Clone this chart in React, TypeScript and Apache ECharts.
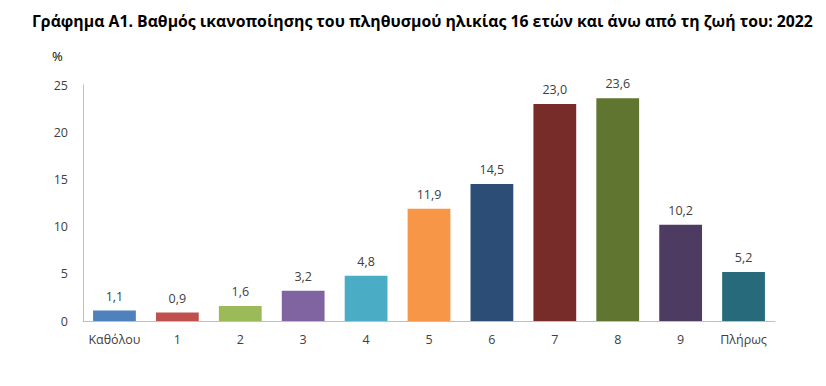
import React, { useEffect, useRef } from "react";
import * as echarts from "echarts";

const categories = ["Καθόλου", "1", "2", "3", "4", "5", "6", "7", "8", "9", "Πλήρως"];
const values = [1.1, 0.9, 1.6, 3.2, 4.8, 11.9, 14.5, 23.0, 23.6, 10.2, 5.2];
const colors = ["#4F81BD", "#C0504D", "#9BBB59", "#8064A2", "#4BACC6", "#F79646", "#2C4D75", "#772C2A", "#5F7530", "#4D3B62", "#276A7C"];
const title = "Γράφημα Α1. Βαθμός ικανοποίησης του πληθυσμού ηλικίας 16 ετών και άνω από τη ζωή του: 2022";

export default function App() {
  const ref = useRef<HTMLDivElement>(null);
  useEffect(() => {
    const chart = echarts.init(ref.current!, null, { renderer: "svg" });
    const font = "'Open Sans', 'Noto Sans', sans-serif";
    chart.setOption({
      animation: false,
      backgroundColor: "#ffffff",
      title: {
        text: title,
        left: 19,
        top: 0,
        textStyle: { fontFamily: font, fontSize: 15.8, fontWeight: "bold", color: "#000" },
      },
      graphic: [
        { type: "text", left: 44, top: 41, style: { text: "%", fontFamily: font, fontSize: 13, fill: "#000" } },
      ],
      grid: { left: 75, right: 43, top: 77, bottom: 57, containLabel: false },
      xAxis: {
        type: "category",
        data: categories,
        axisLine: { lineStyle: { color: "#BFBFBF", width: 1 } },
        axisTick: { show: false },
        axisLabel: { color: "#404040", fontFamily: font, fontSize: 12.5, margin: 12, interval: 0 },
      },
      yAxis: {
        type: "value",
        min: 0,
        max: 25,
        interval: 5,
        axisLine: { show: true, lineStyle: { color: "#BFBFBF", width: 1 } },
        axisTick: { show: false },
        splitLine: { show: false },
        axisLabel: { color: "#404040", fontFamily: font, fontSize: 12.5, margin: 15 },
      },
      series: [
        {
          type: "bar",
          data: values.map((v, i) => ({ value: v, itemStyle: { color: colors[i] } })),
          barCategoryGap: "32%",
          label: {
            show: true,
            position: "top",
            distance: 8,
            color: "#404040",
            fontFamily: font,
            fontSize: 12.5,
            formatter: (p: any) => p.value.toFixed(1).replace(".", ","),
          },
        },
      ],
    });
    return () => chart.dispose();
  }, []);
  return <div ref={ref} style={{ width: 810, height: 370 }} />;
}
